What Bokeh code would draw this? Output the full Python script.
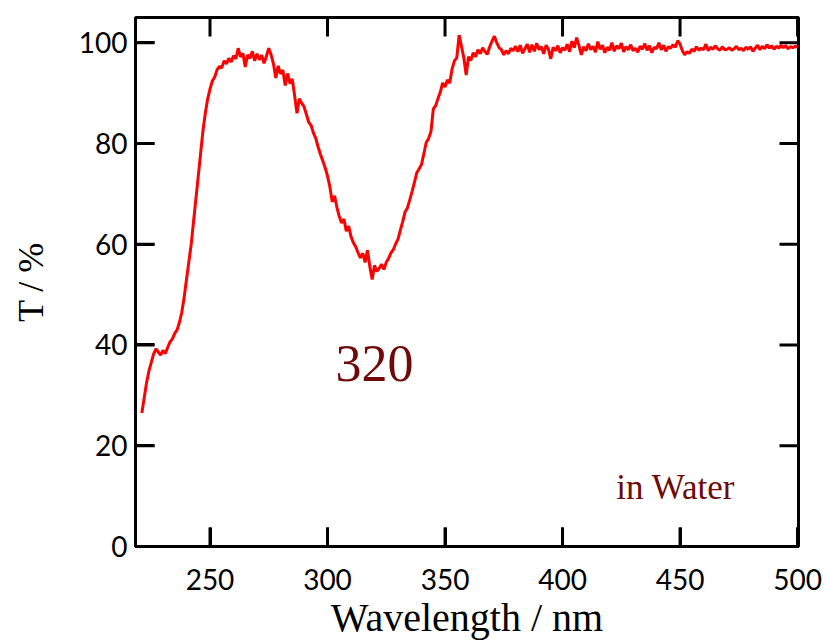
from bokeh.plotting import figure
from bokeh.models import Range1d, FixedTicker, ColumnDataSource
from bokeh.core.properties import value
from bokeh.embed import file_html
from bokeh.resources import INLINE

# ---- data ----
wavelength_nm = list(range(221, 501))
transmittance = [
    26.5, 29.5, 32.5, 34.8, 36.5, 38.2, 39.2, 38.6, 38.0, 38.9,   # 221-230
    38.3, 39.5, 40.6, 41.2, 42.3, 43.0, 44.5, 46.5, 49.5, 53.0,   # 231-240
    56.5, 60.0, 64.5, 69.0, 73.5, 78.0, 82.5, 86.0, 88.8, 90.8,   # 241-250
    92.4, 93.2, 94.6, 95.3, 95.0, 96.4, 95.8, 96.9, 96.2, 97.4,   # 251-260
    96.8, 98.9, 97.2, 97.9, 95.2, 97.6, 96.9, 98.3, 96.4, 97.8,   # 261-270
    96.6, 97.5, 95.9, 97.3, 98.9, 97.6, 95.8, 93.0, 95.4, 93.8,   # 271-280
    94.6, 91.5, 93.9, 91.9, 92.8, 89.5, 86.0, 88.9, 88.0, 87.3,   # 281-290
    85.8, 84.2, 83.6, 82.1, 81.0, 79.3, 77.8, 76.5, 75.2, 73.5,   # 291-300
    71.4, 68.4, 69.6, 67.3, 65.5, 64.2, 65.0, 62.6, 63.6, 61.5,   # 301-310
    60.3, 59.5, 58.3, 57.3, 58.2, 56.4, 58.8, 55.6, 53.0, 55.8,   # 311-320
    54.6, 55.2, 56.0, 55.0, 56.4, 57.2, 58.3, 58.9, 60.1, 61.0,   # 321-330
    62.8, 64.5, 66.4, 67.2, 68.8, 70.5, 72.3, 74.2, 75.0, 75.8,   # 331-340
    78.0, 80.2, 81.0, 82.3, 86.8, 87.5, 88.9, 90.2, 92.0, 91.2,   # 341-350
    92.6, 92.0, 94.8, 96.4, 97.0, 101.5, 99.3, 97.0, 93.6, 97.2,  # 351-360
    96.5, 98.0, 97.2, 98.6, 97.8, 99.0, 98.2, 97.7, 99.2, 100.3,  # 361-370
    101.3, 100.0, 99.0, 98.6, 97.6, 98.4, 97.8, 98.9, 98.4, 99.3, # 371-380
    98.2, 99.5, 97.9, 98.8, 99.7, 98.1, 99.6, 98.3, 99.9, 98.6,   # 381-390
    99.2, 97.8, 99.5, 98.7, 96.8, 99.1, 98.4, 99.4, 98.0, 99.0,   # 391-400
    98.5, 99.7, 98.2, 100.3, 99.0, 101.0, 99.4, 97.6, 99.2, 98.4, # 401-410
    99.8, 98.6, 99.3, 98.1, 100.2, 98.7, 99.5, 98.0, 99.1, 98.5,  # 411-420
    100.0, 98.3, 99.4, 98.8, 99.9, 98.2, 99.2, 98.6, 99.6, 98.4,  # 421-430
    98.9, 98.1, 99.3, 98.7, 99.8, 98.5, 99.4, 98.0, 99.1, 98.8,   # 431-440
    100.0, 98.6, 99.5, 98.3, 99.2, 98.9, 99.6, 99.1, 100.4, 99.7, # 441-450
    98.4, 97.6, 98.2, 97.9, 98.7, 98.3, 99.2, 98.5, 98.9, 98.6,   # 451-460
    99.7, 98.4, 99.1, 98.7, 99.4, 98.8, 98.5, 99.2, 98.6, 98.7,   # 461-470
    99.0, 98.5, 98.8, 99.3, 98.6, 98.9, 98.4, 99.1, 98.7, 99.2,   # 471-480
    98.3, 98.9, 99.5, 98.6, 99.3, 98.8, 99.6, 98.9, 99.4, 98.7,   # 481-490
    99.3, 98.9, 99.5, 99.0, 99.4, 98.8, 99.2, 99.0, 99.3, 99.1,   # 491-500
]
x_ticks = [250, 300, 350, 400, 450, 500]
y_ticks = [0, 20, 40, 60, 80, 100]
peak_label = "320"
peak_wavelength = 320
solvent_label = "in Water"

SERIF = "Liberation Serif"
SANS = "Lato"
DARKRED = "#6e0a0a"
X0, X1, Y0, Y1 = 218.3, 500.4, 0, 105
FRAME_W, FRAME_H = 663, 529     # frame size in px (824 - 135 - 26, 643 - 17 - 97)
TICK_PX = 19
tick_dx = TICK_PX / FRAME_W * (X1 - X0)
tick_dy = TICK_PX / FRAME_H * (Y1 - Y0)

p = figure(width=824, height=643,
           x_range=Range1d(X0, X1), y_range=Range1d(Y0, Y1),
           output_backend="svg", toolbar_location=None,
           min_border_left=135, min_border_right=26,
           min_border_top=17, min_border_bottom=97,
           background_fill_color="white", border_fill_color="white")
p.grid.visible = False
p.outline_line_color = "black"
p.outline_line_width = 3

def style(ax, ticks):
    ax.ticker = FixedTicker(ticks=ticks)
    ax.major_tick_in = TICK_PX
    ax.major_tick_out = 0
    ax.minor_tick_line_color = None
    ax.major_tick_line_color = "black"
    ax.major_tick_line_width = 3
    ax.axis_line_width = 3
    ax.axis_line_color = "black"
    ax.major_label_text_font = SANS
    ax.major_label_text_font_size = "28px"
    ax.major_label_text_color = "black"

style(p.xaxis[0], x_ticks)
style(p.yaxis[0], y_ticks)
p.xaxis[0].major_label_standoff = 22
p.yaxis[0].major_label_standoff = 8

p.xaxis[0].axis_label = "Wavelength / nm"
p.xaxis[0].axis_label_text_font = SERIF
p.xaxis[0].axis_label_text_font_size = "40px"
p.xaxis[0].axis_label_text_font_style = "normal"
p.xaxis[0].axis_label_text_color = "black"
p.xaxis[0].axis_label_standoff = 2

p.yaxis[0].axis_label = "T / %"
p.yaxis[0].axis_label_text_font = SERIF
p.yaxis[0].axis_label_text_font_size = "36px"
p.yaxis[0].axis_label_text_font_style = "normal"
p.yaxis[0].axis_label_text_color = "black"
p.yaxis[0].axis_label_standoff = 25

# inward ticks on all four frame edges
n = len(x_ticks)
m = len(y_ticks)
p.segment(x0=x_ticks, x1=x_ticks, y0=[Y0] * n, y1=[Y0 + tick_dy] * n,
          line_color="black", line_width=3)
p.segment(x0=x_ticks, x1=x_ticks, y0=[Y1] * n, y1=[Y1 - tick_dy] * n,
          line_color="black", line_width=3)
p.segment(x0=[X0] * m, x1=[X0 + tick_dx] * m, y0=y_ticks, y1=y_ticks,
          line_color="black", line_width=3)
p.segment(x0=[X1] * m, x1=[X1 - tick_dx] * m, y0=y_ticks, y1=y_ticks,
          line_color="black", line_width=3)

src = ColumnDataSource(dict(x=wavelength_nm, y=transmittance))
p.line("x", "y", source=src, line_color="#ff0000", line_width=3)

p.text(x=[peak_wavelength], y=[36.3], text=[peak_label], text_align="center",
       text_baseline="alphabetic", text_font=value(SERIF), text_font_size="52px",
       text_color=DARKRED)
p.text(x=[422.9], y=[11.7], text=[solvent_label], text_align="left",
       text_baseline="alphabetic", text_font=value(SERIF), text_font_size="35px",
       text_color=DARKRED)

open("out.html", "w").write(file_html(p, INLINE))
